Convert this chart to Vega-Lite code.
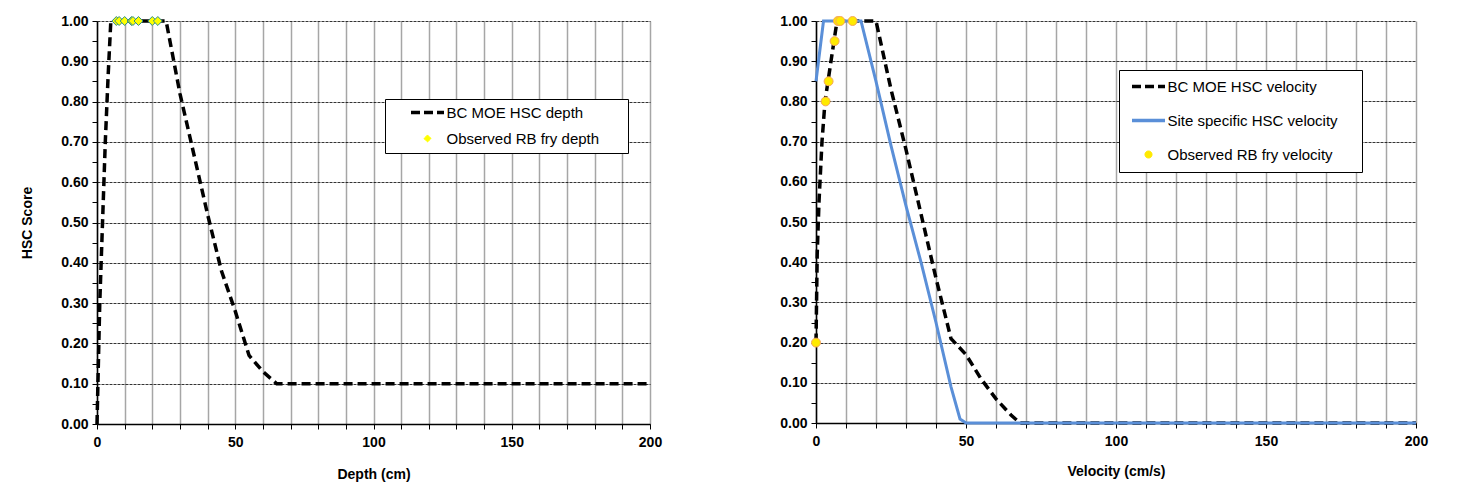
{
  "$schema": "https://vega.github.io/schema/vega-lite/v6.json",
  "background": "white",
  "padding": {"left": 20, "top": 14, "right": 5, "bottom": 5},
  "spacing": 117,
  "resolve": {"scale": {"color": "independent"}, "legend": {"color": "independent"}},
  "config": {
    "font": "Liberation Sans",
    "view": {"stroke": null},
    "axis": {
      "labelFont": "Liberation Sans", "labelFontWeight": "bold", "labelFontSize": 14, "labelColor": "#000",
      "titleFont": "Liberation Sans", "titleFontWeight": "bold", "titleFontSize": 14, "titleColor": "#000",
      "domainColor": "#000", "domainWidth": 1.5, "tickColor": "#000", "tickSize": 5
    },
    "legend": {"labelFont": "Liberation Sans", "labelFontSize": 15, "labelColor": "#000", "labelLimit": 400}
  },
  "datasets": {
    "depth": [
      {"series": "BC MOE HSC depth", "x": 0, "y": 0},
      {"series": "BC MOE HSC depth", "x": 0.5, "y": 0.15},
      {"series": "BC MOE HSC depth", "x": 1, "y": 0.3},
      {"series": "BC MOE HSC depth", "x": 2, "y": 0.5},
      {"series": "BC MOE HSC depth", "x": 3, "y": 0.7},
      {"series": "BC MOE HSC depth", "x": 4, "y": 0.86},
      {"series": "BC MOE HSC depth", "x": 5, "y": 1.0},
      {"series": "BC MOE HSC depth", "x": 25, "y": 1.0},
      {"series": "BC MOE HSC depth", "x": 30, "y": 0.82},
      {"series": "BC MOE HSC depth", "x": 35, "y": 0.67},
      {"series": "BC MOE HSC depth", "x": 40, "y": 0.52},
      {"series": "BC MOE HSC depth", "x": 45, "y": 0.38},
      {"series": "BC MOE HSC depth", "x": 50, "y": 0.28},
      {"series": "BC MOE HSC depth", "x": 55, "y": 0.17},
      {"series": "BC MOE HSC depth", "x": 60, "y": 0.13},
      {"series": "BC MOE HSC depth", "x": 65, "y": 0.1},
      {"series": "BC MOE HSC depth", "x": 200, "y": 0.1},
      {"series": "Observed RB fry depth", "x": 7, "y": 1.0},
      {"series": "Observed RB fry depth", "x": 8, "y": 1.0},
      {"series": "Observed RB fry depth", "x": 10, "y": 1.0},
      {"series": "Observed RB fry depth", "x": 12.5, "y": 1.0},
      {"series": "Observed RB fry depth", "x": 13, "y": 1.0},
      {"series": "Observed RB fry depth", "x": 15, "y": 1.0},
      {"series": "Observed RB fry depth", "x": 20, "y": 1.0},
      {"series": "Observed RB fry depth", "x": 22, "y": 1.0}
    ],
    "velocity": [
      {"series": "BC MOE HSC velocity", "x": 0, "y": 0.2},
      {"series": "BC MOE HSC velocity", "x": 0.4, "y": 0.42},
      {"series": "BC MOE HSC velocity", "x": 1, "y": 0.55},
      {"series": "BC MOE HSC velocity", "x": 2, "y": 0.7},
      {"series": "BC MOE HSC velocity", "x": 3, "y": 0.8},
      {"series": "BC MOE HSC velocity", "x": 4, "y": 0.85},
      {"series": "BC MOE HSC velocity", "x": 6, "y": 0.95},
      {"series": "BC MOE HSC velocity", "x": 7, "y": 1.0},
      {"series": "BC MOE HSC velocity", "x": 20, "y": 1.0},
      {"series": "BC MOE HSC velocity", "x": 25, "y": 0.83},
      {"series": "BC MOE HSC velocity", "x": 30, "y": 0.68},
      {"series": "BC MOE HSC velocity", "x": 35, "y": 0.52},
      {"series": "BC MOE HSC velocity", "x": 40, "y": 0.36},
      {"series": "BC MOE HSC velocity", "x": 45, "y": 0.21},
      {"series": "BC MOE HSC velocity", "x": 50, "y": 0.17},
      {"series": "BC MOE HSC velocity", "x": 55, "y": 0.11},
      {"series": "BC MOE HSC velocity", "x": 60, "y": 0.06},
      {"series": "BC MOE HSC velocity", "x": 65, "y": 0.02},
      {"series": "BC MOE HSC velocity", "x": 68, "y": 0.0},
      {"series": "BC MOE HSC velocity", "x": 200, "y": 0.0},
      {"series": "Site specific HSC velocity", "x": 0, "y": 0.85},
      {"series": "Site specific HSC velocity", "x": 2.5, "y": 1.0},
      {"series": "Site specific HSC velocity", "x": 15, "y": 1.0},
      {"series": "Site specific HSC velocity", "x": 20, "y": 0.85},
      {"series": "Site specific HSC velocity", "x": 25, "y": 0.69},
      {"series": "Site specific HSC velocity", "x": 30, "y": 0.54},
      {"series": "Site specific HSC velocity", "x": 35, "y": 0.4},
      {"series": "Site specific HSC velocity", "x": 40, "y": 0.25},
      {"series": "Site specific HSC velocity", "x": 45, "y": 0.09},
      {"series": "Site specific HSC velocity", "x": 48, "y": 0.01},
      {"series": "Site specific HSC velocity", "x": 50, "y": 0.0},
      {"series": "Site specific HSC velocity", "x": 200, "y": 0.0},
      {"series": "Observed RB fry velocity", "x": 0, "y": 0.2},
      {"series": "Observed RB fry velocity", "x": 3.2, "y": 0.8},
      {"series": "Observed RB fry velocity", "x": 4.2, "y": 0.85},
      {"series": "Observed RB fry velocity", "x": 6.2, "y": 0.95},
      {"series": "Observed RB fry velocity", "x": 7.3, "y": 1.0},
      {"series": "Observed RB fry velocity", "x": 8.1, "y": 1.0},
      {"series": "Observed RB fry velocity", "x": 12.2, "y": 1.0}
    ]
  },
  "hconcat": [
    {
      "width": 553,
      "height": 403,
      "data": {"name": "depth"},
      "encoding": {
        "x": {"field": "x", "type": "quantitative", "title": "Depth (cm)",
          "scale": {"domain": [0, 200], "nice": false},
          "axis": {"values": [0,10,20,30,40,50,60,70,80,90,100,110,120,130,140,150,160,170,180,190,200],
            "labelExpr": "datum.value % 50 === 0 ? datum.label : ''", "labelFlush": false, "labelPadding": 6,
            "gridColor": "#A6A6A6", "gridWidth": 1.5, "titlePadding": 18}},
        "y": {"field": "y", "type": "quantitative", "title": "HSC Score",
          "scale": {"domain": [0, 1], "nice": false},
          "axis": {"values": [0,0.05,0.1,0.15,0.2,0.25,0.3,0.35,0.4,0.45,0.5,0.55,0.6,0.65,0.7,0.75,0.8,0.85,0.9,0.95,1.0],
            "format": ".2f", "labelExpr": "round(datum.value*100) % 10 === 0 ? datum.label : ''",
            "gridColor": "#000", "gridDash": [3, 1], "gridWidth": 0.8,
            "gridOpacity": {"condition": {"test": "round(datum.value*100) % 10 === 0", "value": 1}, "value": 0},
            "titlePadding": 26, "labelPadding": 4}},
        "color": {"field": "series", "type": "nominal",
          "scale": {"domain": ["BC MOE HSC depth", "Observed RB fry depth"], "range": ["#000000", "#FFFF00"]},
          "legend": {"title": null, "orient": "none", "legendX": 288, "legendY": 78,
            "strokeColor": "#000", "fillColor": "#fff", "padding": 6, "rowPadding": 10, "symbolOffset": 29,
            "symbolType": "stroke", "symbolSize": 1089, "labelOffset": 11.5,
            "labelExpr": "datum.label + '\u2002\u2002\u2002\u200b'",
            "encode": {"symbols": {"update": {
              "shape": {"signal": "datum.value === 'Observed RB fry depth' ? 'diamond' : 'stroke'"},
              "size": {"signal": "datum.value === 'Observed RB fry depth' ? 50 : 1089"},
              "fill": {"signal": "datum.value === 'Observed RB fry depth' ? '#FFFF00' : 'transparent'"},
              "stroke": {"signal": "datum.value === 'Observed RB fry depth' ? '#2A8C8C' : '#000000'"},
              "strokeWidth": {"signal": "datum.value === 'Observed RB fry depth' ? 1 : 3.5"},
              "strokeDash": {"signal": "datum.value === 'BC MOE HSC depth' ? [9, 4] : [1, 0]"}
            }}}}}
      },
      "layer": [
        {"transform": [{"filter": "datum.series === 'BC MOE HSC depth'"}],
         "mark": {"type": "line", "strokeWidth": 3.5, "strokeDash": [9, 5], "clip": false}},
        {"transform": [{"filter": "datum.series === 'Observed RB fry depth'"}],
         "mark": {"type": "point", "shape": "diamond", "filled": true, "size": 80, "stroke": "#2A8C8C", "strokeWidth": 1, "opacity": 1}}
      ]
    },
    {
      "width": 600,
      "height": 402,
      "data": {"name": "velocity"},
      "encoding": {
        "x": {"field": "x", "type": "quantitative", "title": "Velocity (cm/s)",
          "scale": {"domain": [0, 200], "nice": false},
          "axis": {"values": [0,10,20,30,40,50,60,70,80,90,100,110,120,130,140,150,160,170,180,190,200],
            "labelExpr": "datum.value % 50 === 0 ? datum.label : ''", "labelFlush": false, "labelPadding": 6,
            "gridColor": "#A6A6A6", "gridWidth": 1.5, "titlePadding": 16}},
        "y": {"field": "y", "type": "quantitative", "title": null,
          "scale": {"domain": [0, 1], "nice": false},
          "axis": {"values": [0,0.05,0.1,0.15,0.2,0.25,0.3,0.35,0.4,0.45,0.5,0.55,0.6,0.65,0.7,0.75,0.8,0.85,0.9,0.95,1.0],
            "format": ".2f", "labelExpr": "round(datum.value*100) % 10 === 0 ? datum.label : ''",
            "gridColor": "#000", "gridDash": [3, 1], "gridWidth": 0.8,
            "gridOpacity": {"condition": {"test": "round(datum.value*100) % 10 === 0", "value": 1}, "value": 0},
            "labelPadding": 4}},
        "color": {"field": "series", "type": "nominal",
          "scale": {"domain": ["BC MOE HSC velocity", "Site specific HSC velocity", "Observed RB fry velocity"], "range": ["#000000", "#5A8FD8", "#FFEA00"]},
          "legend": {"title": null, "orient": "none", "legendX": 303, "legendY": 49,
            "strokeColor": "#000", "fillColor": "#fff", "padding": 9, "rowPadding": 18, "symbolOffset": 13,
            "symbolType": "stroke", "symbolSize": 1089, "labelOffset": 11.5,
            "labelExpr": "datum.label + '\u2002\u2002\u200b'",
            "encode": {"symbols": {"update": {
              "shape": {"signal": "datum.value === 'Observed RB fry velocity' ? 'circle' : 'stroke'"},
              "size": {"signal": "datum.value === 'Observed RB fry velocity' ? 50 : 1089"},
              "fill": {"signal": "datum.value === 'Observed RB fry velocity' ? '#FFEA00' : 'transparent'"},
              "stroke": {"signal": "datum.value === 'Observed RB fry velocity' ? '#F5A65B' : (datum.value === 'Site specific HSC velocity' ? '#5A8FD8' : '#000000')"},
              "strokeWidth": {"signal": "datum.value === 'Observed RB fry velocity' ? 1 : 3.5"},
              "strokeDash": {"signal": "datum.value === 'BC MOE HSC velocity' ? [9, 4] : [1, 0]"}
            }}}}}
      },
      "layer": [
        {"transform": [{"filter": "datum.series === 'BC MOE HSC velocity'"}],
         "mark": {"type": "line", "strokeWidth": 3.5, "strokeDash": [9, 5], "clip": false}},
        {"transform": [{"filter": "datum.series === 'Site specific HSC velocity'"}],
         "mark": {"type": "line", "strokeWidth": 3, "clip": false}},
        {"transform": [{"filter": "datum.series === 'Observed RB fry velocity'"}],
         "mark": {"type": "point", "shape": "circle", "filled": true, "size": 80, "stroke": "#F5A65B", "strokeWidth": 1, "opacity": 1}}
      ]
    }
  ]
}
